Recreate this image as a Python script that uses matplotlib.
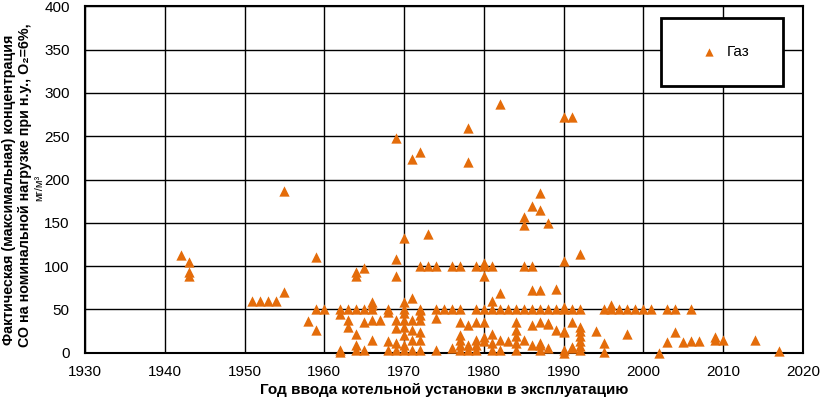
import matplotlib.pyplot as plt
from matplotlib.patches import Rectangle

# --- Данные: год ввода и концентрация CO (мг/м3), газ ---
years = [1942, 1943, 1951, 1952, 1953, 1954, 1955, 1958, 1959, 1960,
         1962, 1963, 1964, 1965, 1966, 1967, 1968, 1969, 1970, 1971,
         1972, 1973, 1974, 1975, 1976, 1977, 1978, 1979, 1980, 1981,
         1982, 1983, 1984, 1985, 1986, 1987, 1988, 1989, 1990, 1991,
         1992, 1994, 1995, 1996, 1997, 1998, 1999, 2000, 2001, 2002,
         2003, 2004, 2005, 2006, 2007, 2009, 2010, 2014, 2017]
co_values = [
    [113], [105, 93, 88], [60], [60], [60], [60], [187, 70], [37], [110, 50, 26], [50],
    [45, 50, 3, 1], [50, 38, 30], [93, 88, 50, 22, 9, 3], [98, 50, 35, 3], [59, 55, 50, 38, 15],
    [38], [50, 47, 13, 3], [248, 108, 88, 38, 28, 11, 3], [133, 59, 50, 46, 38, 30, 20, 9, 3],
    [224, 63, 38, 26, 15, 3],
    [232, 100, 50, 49, 43, 38, 24, 15, 3], [137, 100], [100, 50, 40, 3], [50], [100, 50, 5],
    [100, 50, 36, 20, 15, 9, 3], [260, 220, 32, 9, 3], [100, 50, 36, 15, 9, 3],
    [104, 100, 89, 50, 36, 18, 13], [100, 60, 50, 22, 11, 3],
    [287, 69, 50, 15, 3], [50, 13], [50, 36, 26, 19, 11, 3], [157, 147, 100, 50, 15],
    [169, 100, 72, 50, 32, 9], [184, 165, 72, 50, 36, 11, 9, 3], [150, 50, 34, 33, 5],
    [73, 50, 26], [272, 106, 53, 50, 25, 24, 3, 0], [272, 50, 36, 7, 5],
    [114, 50, 30, 25, 19, 13, 8, 3], [25], [50, 11, 1], [55, 50], [50], [50, 22], [50],
    [50], [50], [0],
    [50, 12], [50, 24], [12], [50, 14], [13], [18, 15], [15], [15], [2]]

x_ticks = list(range(1930, 2021, 10))
y_ticks = list(range(0, 401, 50))

# разворачиваем в плоские списки точек
xs, ys = [], []
for yr, vals in zip(years, co_values):
    for v in vals:
        xs.append(yr)
        ys.append(v)

plt.rcParams['font.family'] = ['Liberation Sans', 'DejaVu Sans']

fig = plt.figure(figsize=(8.21, 3.97), dpi=100)
ax = fig.add_axes([0.1035, 0.1116, 0.8745, 0.8725])

ax.scatter(xs, ys, marker='^', s=55, color='#E46C0A', linewidths=0,
           label='Газ', clip_on=False, zorder=3)

ax.set_xlim(1930, 2020)
ax.set_ylim(0, 400)
ax.set_xticks(x_ticks)
ax.set_yticks(y_ticks)
ax.set_axisbelow(True)
ax.grid(True, color='black', linewidth=1)
ax.tick_params(length=0, labelsize=11)
ax.tick_params(axis='y', pad=11)
ax.tick_params(axis='x', pad=9)
for sp in ax.spines.values():
    sp.set_linewidth(1.5)
    sp.set_color('black')

ax.set_xlabel('Год ввода котельной установки в эксплуатацию',
              fontsize=11, fontweight='bold', labelpad=3)

# подпись оси Y в три строки
fig.text(9 / 821, 1 - 190 / 397, 'Фактическая (максимальная) концентрация',
         rotation=90, ha='center', va='center', fontsize=10.3, fontweight='bold')
fig.text(25 / 821, 1 - 185 / 397, 'СО на номинальной нагрузке при н.у., O₂=6%,',
         rotation=90, ha='center', va='center', fontsize=10.3, fontweight='bold')
fig.text(39 / 821, 1 - 188 / 397, 'мг/м³',
         rotation=90, ha='center', va='center', fontsize=8)

# рамка легенды
ax.add_patch(Rectangle((0.803, 0.770), 0.169, 0.195, transform=ax.transAxes,
                       facecolor='white', edgecolor='black', linewidth=2, zorder=4))
leg = ax.legend(loc='center', bbox_to_anchor=(0.887, 0.868), frameon=False,
                fontsize=11, handletextpad=0.2, markerscale=0.8)
leg.set_zorder(5)

fig.savefig('out.png', dpi=100)
